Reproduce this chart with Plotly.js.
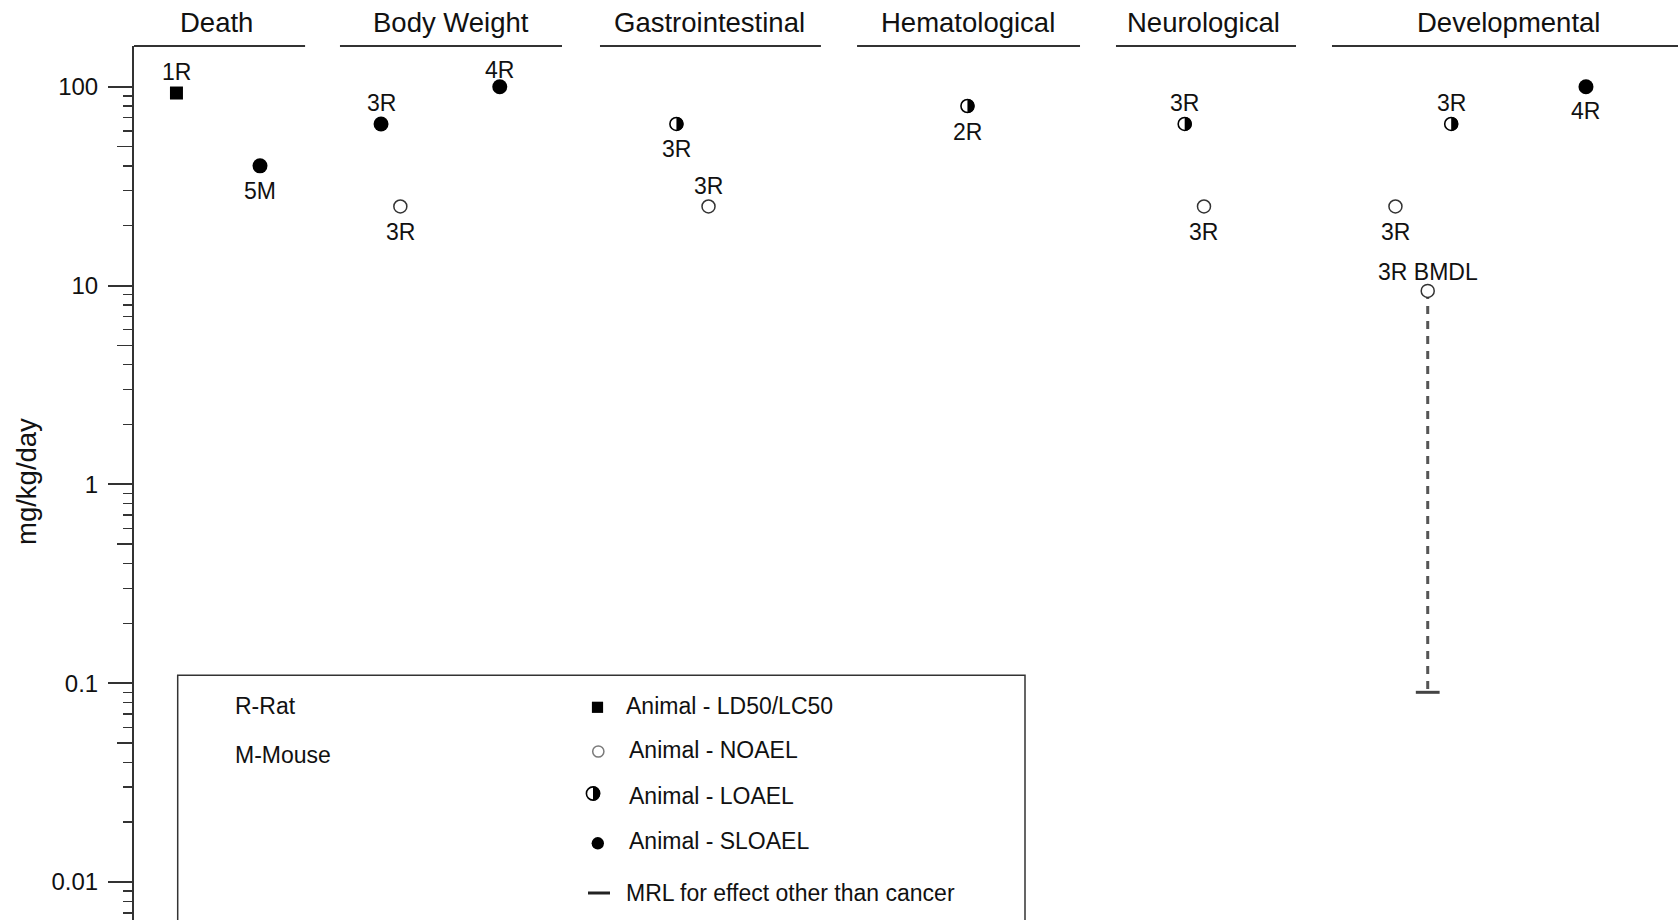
<!DOCTYPE html>
<html>
<head>
<meta charset="utf-8">
<script src="https://cdn.plot.ly/plotly-3.0.1.min.js"></script>
<style>
  html, body { margin: 0; padding: 0; background: #fff; }
  #chart { width: 1678px; height: 920px; }
</style>
</head>
<body>
<div id="chart"></div>
<script>
// ---- Data ---------------------------------------------------------------
// Endpoint groups shown across the top
const endpoints = ['Death', 'Body Weight', 'Gastrointestinal', 'Hematological', 'Neurological', 'Developmental'];

// Study results: endpoint, dose (mg/kg/day), effect level, study label
const pointEndpoint = ['Death', 'Death',
  'Body Weight', 'Body Weight', 'Body Weight',
  'Gastrointestinal', 'Gastrointestinal',
  'Hematological',
  'Neurological', 'Neurological',
  'Developmental', 'Developmental', 'Developmental', 'Developmental'];
const pointDose = [93, 40, 65, 25, 100, 65, 25, 80, 65, 25, 25, 9.4, 65, 100];
const pointLevel = ['LD50', 'SLOAEL', 'SLOAEL', 'NOAEL', 'SLOAEL', 'LOAEL', 'NOAEL',
  'LOAEL', 'LOAEL', 'NOAEL', 'NOAEL', 'NOAEL', 'LOAEL', 'SLOAEL'];
const pointLabel = ['1R', '5M', '3R', '3R', '4R', '3R', '3R', '2R', '3R', '3R', '3R', '3R BMDL', '3R', '4R'];

// Minimal risk level and the BMDL point it is derived from
const mrlDose = 0.09;
const mrlFrom = 11;

// Axis tick labels
const tickValues = [0.01, 0.1, 1, 10, 100];
const tickLabels = ['0.01', '0.1', '1', '10', '100'];

// ---- Placement (x units: 0..100 across the plot area) --------------------
const panelStart = [0, 13.34, 30.18, 46.83, 63.60, 77.59];
const panelEnd = [11.08, 27.72, 44.49, 61.27, 75.26, 100.5];
const titleCenter = [5.33, 20.5, 37.3, 54.0, 69.3, 89.05];
const pointSlot = [2.75, 8.16, 16.0, 17.25, 23.69, 35.13, 37.21, 53.98, 68.05, 69.30, 81.70, 83.79, 85.31, 94.04];
// label offset from the point centre in pixels (+ above, - below)
const labelShift = [21.5, -25.5, 20.5, -25.5, 16.5, -25.5, 20.5, -25.5, 20.5, -25.5, -25.5, 18.5, 20.5, -24];

// ---- Figure geometry ------------------------------------------------------
const W = 1678, H = 920;
const M = { l: 134, r: 0, t: 46, b: 0 };
const PW = W - M.l - M.r, PH = H - M.t - M.b;
const paperX = px => (px - M.l) / PW;
const paperY = py => 1 - (py - M.t) / PH;

const TEXT = '#111111';
const INK = '#333333';
const FONT = 'Liberation Sans, Arial, sans-serif';

// right half of a disc, in pixels around an anchor
function halfDisc(r) {
  const k = 0.5523 * r;
  return `M0,${-r} C${k},${-r} ${r},${-k} ${r},0 C${r},${k} ${k},${r} 0,${r} Z`;
}

function pick(level) {
  const x = [], y = [];
  pointLevel.forEach((l, i) => { if (l === level) { x.push(pointSlot[i]); y.push(pointDose[i]); } });
  return { x, y };
}

const ld50 = pick('LD50');
const noael = pick('NOAEL');
const loael = pick('LOAEL');
const sloael = pick('SLOAEL');

const traces = [
  // dashed link from the BMDL down to the MRL
  {
    x: [pointSlot[mrlFrom], pointSlot[mrlFrom]], y: [pointDose[mrlFrom], mrlDose],
    mode: 'lines', line: { color: '#555', width: 3, dash: '8px,7px' },
    hoverinfo: 'skip', showlegend: false
  },
  {
    x: [pointSlot[mrlFrom]], y: [mrlDose], mode: 'markers', name: 'MRL',
    marker: { symbol: 'line-ew', size: 17, line: { color: '#444', width: 3 } },
    showlegend: false
  },
  {
    x: ld50.x, y: ld50.y, mode: 'markers', name: 'Animal - LD50/LC50',
    marker: { symbol: 'square', size: 13, color: '#000' }, showlegend: false
  },
  {
    x: noael.x, y: noael.y, mode: 'markers', name: 'Animal - NOAEL',
    marker: { symbol: 'circle', size: 13, color: '#fff', line: { color: INK, width: 1.5 } }, showlegend: false
  },
  {
    x: sloael.x, y: sloael.y, mode: 'markers', name: 'Animal - SLOAEL',
    marker: { symbol: 'circle', size: 15, color: '#000' }, showlegend: false
  },
  {
    x: loael.x, y: loael.y, mode: 'markers', name: 'Animal - LOAEL',
    marker: { symbol: 'circle', size: 13, color: '#fff', line: { color: '#000', width: 1.6 } }, showlegend: false
  },
  // carrier for the mid-decade tick axis
  { x: [], y: [], yaxis: 'y2', mode: 'markers', showlegend: false, hoverinfo: 'skip' }
];

// minor ticks at every digit of each decade
const minorVals = [];
for (let k = -3; k <= 2; k++) for (let d = 2; d <= 9; d++) minorVals.push(d * Math.pow(10, k));

const yRange = [-2.191, 2.205];

const annotations = [];

// endpoint headings
endpoints.forEach((name, i) => {
  annotations.push({
    text: name, xref: 'x', yref: 'paper', x: titleCenter[i], y: 1,
    yshift: 23.5, yanchor: 'middle', xanchor: 'center', showarrow: false,
    font: { family: FONT, size: 27.5, color: TEXT }
  });
});

// study labels next to each point
pointLabel.forEach((lab, i) => {
  annotations.push({
    text: lab, xref: 'x', yref: 'y', x: pointSlot[i], y: Math.log10(pointDose[i]),
    yshift: labelShift[i], yanchor: 'middle', xanchor: 'center',
    showarrow: false, font: { family: FONT, size: 23, color: TEXT }
  });
});

// y axis title
annotations.push({
  text: 'mg/kg/day', xref: 'paper', yref: 'paper', x: paperX(27), y: paperY(482),
  xanchor: 'center', yanchor: 'middle', textangle: -90, showarrow: false,
  font: { family: FONT, size: 27.5, color: TEXT }
});

// key text
const keyText = ['Animal - LD50/LC50', 'Animal - NOAEL', 'Animal - LOAEL', 'Animal - SLOAEL', 'MRL for effect other than cancer'];
const keyTextX = [624, 627, 627, 627, 624];
const keyTextY = [706.3, 750.2, 796, 841, 892.5];
keyText.forEach((t, i) => {
  annotations.push({
    text: t, xref: 'paper', yref: 'paper', x: paperX(keyTextX[i]), y: paperY(keyTextY[i]),
    xanchor: 'left', yanchor: 'middle', showarrow: false,
    font: { family: FONT, size: 23, color: TEXT }
  });
});
['R-Rat', 'M-Mouse'].forEach((t, i) => {
  annotations.push({
    text: t, xref: 'paper', yref: 'paper', x: paperX(232.5), y: paperY([706.3, 754.5][i]),
    xanchor: 'left', yanchor: 'middle', showarrow: false,
    font: { family: FONT, size: 23, color: TEXT }
  });
});

// header rules over each endpoint group
const shapes = endpoints.map((_, i) => ({
  type: 'line', xref: 'x', yref: 'paper', x0: panelStart[i], x1: panelEnd[i], y0: 1, y1: 1,
  line: { color: INK, width: 2 }
}));

// filled right half on each LOAEL circle
loael.x.forEach((x, i) => {
  shapes.push({
    type: 'path', xref: 'x', yref: 'y', xsizemode: 'pixel', ysizemode: 'pixel',
    xanchor: x, yanchor: loael.y[i], path: halfDisc(7), fillcolor: '#000',
    line: { width: 0 }, layer: 'above'
  });
});

// key frame
shapes.push({
  type: 'rect', xref: 'paper', yref: 'paper',
  x0: paperX(177.7), x1: paperX(1025), y0: paperY(960), y1: paperY(675.3),
  line: { color: INK, width: 1.5 }, fillcolor: 'rgba(0,0,0,0)'
});

// key symbols (pixel-sized, anchored in the key frame)
function keyShape(type, cx, cy, half, extra) {
  return Object.assign({
    type, xref: 'paper', yref: 'paper', xsizemode: 'pixel', ysizemode: 'pixel',
    xanchor: paperX(cx), yanchor: paperY(cy),
    x0: -half, x1: half, y0: -half, y1: half, layer: 'above'
  }, extra);
}
shapes.push(keyShape('rect', 597.5, 707.3, 5.6, { fillcolor: '#000', line: { width: 0 } }));
shapes.push(keyShape('circle', 598.3, 751.5, 5.6, { fillcolor: '#fff', line: { color: '#7a7a7a', width: 1.5 } }));
shapes.push(keyShape('circle', 593, 793.5, 6.6, { fillcolor: '#fff', line: { color: '#000', width: 1.6 } }));
shapes.push(Object.assign(keyShape('path', 593, 793.5, 0, { fillcolor: '#000', line: { width: 0 } }), { path: halfDisc(7.2) }));
shapes.push(keyShape('circle', 597.8, 843.3, 6.2, { fillcolor: '#000', line: { width: 0 } }));
shapes.push({
  type: 'line', xref: 'paper', yref: 'paper', x0: paperX(588), x1: paperX(610),
  y0: paperY(893), y1: paperY(893), line: { color: '#222', width: 3 }
});

const layout = {
  width: W, height: H,
  margin: M,
  paper_bgcolor: '#fff', plot_bgcolor: '#fff',
  showlegend: false,
  font: { family: FONT, color: TEXT },
  xaxis: { range: [0, 100], visible: false, fixedrange: true },
  yaxis: {
    type: 'log', range: yRange, fixedrange: true,
    tickmode: 'array', tickvals: tickValues, ticktext: tickLabels,
    ticks: 'outside', ticklen: 24, tickwidth: 2, tickcolor: INK,
    ticklabelstandoff: 5,
    tickfont: { family: FONT, size: 24, color: TEXT },
    showline: true, linecolor: INK, linewidth: 2,
    showgrid: false, zeroline: false,
    minor: { tickmode: 'array', tickvals: minorVals, ticks: 'outside', ticklen: 9, tickwidth: 1.5, tickcolor: INK, showgrid: false }
  },
  yaxis2: {
    type: 'log', range: yRange, overlaying: 'y', side: 'left', anchor: 'x', fixedrange: true,
    tickmode: 'array', tickvals: [0.05, 0.5, 5, 50], ticks: 'outside', ticklen: 16, tickwidth: 1.5,
    tickcolor: INK, showticklabels: false, showline: false, showgrid: false, zeroline: false
  },
  annotations, shapes
};

Plotly.newPlot('chart', traces, layout, { displayModeBar: false, staticPlot: true });
</script>
</body>
</html>
